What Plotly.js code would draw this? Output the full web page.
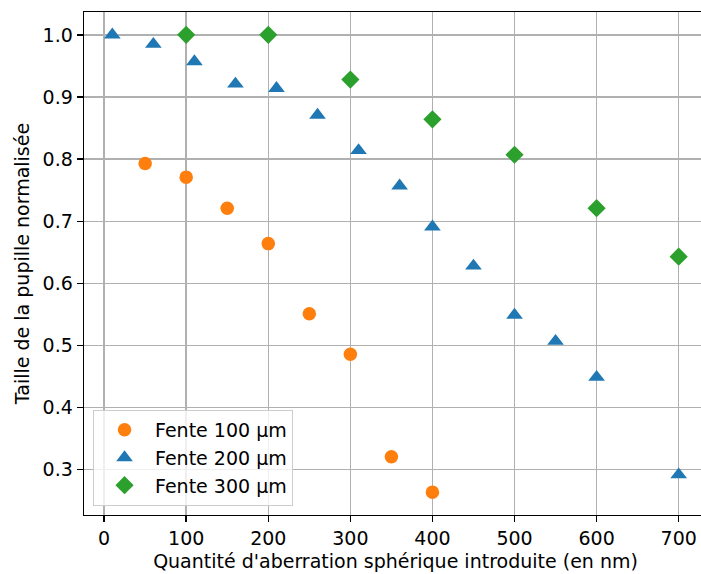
<!DOCTYPE html>
<html>
<head>
<meta charset="utf-8">
<script src="https://cdn.plot.ly/plotly-3.0.1.min.js"></script>
<style>
html,body{margin:0;padding:0;overflow:hidden;background:#fff;width:701px;height:574px;}
#chart{width:708px;height:574px;}
</style>
</head>
<body>
<div id="chart"></div>
<script>
// Data
const x100 = [50, 100, 150, 200, 250, 300, 350, 400];
const y100 = [0.793, 0.771, 0.721, 0.664, 0.551, 0.486, 0.321, 0.264];

const x200 = [10, 60, 110, 160, 210, 260, 310, 360, 400, 450, 500, 550, 600, 700];
const y200 = [1.0, 0.985, 0.957, 0.921, 0.914, 0.871, 0.814, 0.757, 0.691, 0.628, 0.549, 0.507, 0.449, 0.292];

const x300 = [100, 200, 300, 400, 500, 600, 700];
const y300 = [1.0, 1.0, 0.928, 0.864, 0.807, 0.721, 0.643];

const seriesNames = ["Fente 100 µm", "Fente 200 µm", "Fente 300 µm"];
const xTicks = [0, 100, 200, 300, 400, 500, 600, 700];
const yTicks = [0.3, 0.4, 0.5, 0.6, 0.7, 0.8, 0.9, 1.0];

const FONT = "DejaVu Sans, sans-serif";
const FS = 19;

const traces = [
  {x: x100, y: y100, name: seriesNames[0], type: "scatter", mode: "markers",
   marker: {color: "#ff7f0e", size: 13.5, symbol: "circle"}},
  {x: x200, y: y200, name: seriesNames[1], type: "scatter", mode: "markers",
   marker: {color: "#1f77b4", size: 14.5, symbol: "triangle-up"}},
  {x: x300, y: y300, name: seriesNames[2], type: "scatter", mode: "markers",
   marker: {color: "#2ca02c", size: 14, symbol: "diamond"}}
];

const axisCommon = {
  showline: true, linecolor: "#000", linewidth: 1.4, mirror: true,
  ticks: "outside", ticklen: 6, tickwidth: 1.4, tickcolor: "#000",
  showgrid: true, gridcolor: "#b0b0b0", gridwidth: 1.4,
  zeroline: false,
  tickfont: {family: FONT, size: FS, color: "#000"}
};

const layout = {
  width: 708, height: 574,
  margin: {l: 84, r: 1, t: 12, b: 59},
  paper_bgcolor: "#fff", plot_bgcolor: "#fff",
  font: {family: FONT, size: FS, color: "#000"},
  xaxis: Object.assign({}, axisCommon, {
    range: [-24.5, 734.5], tickvals: xTicks,
    title: {text: "Quantité d'aberration sphérique introduite (en nm)",
            font: {family: FONT, size: FS, color: "#000"}, standoff: 6}
  }),
  yaxis: Object.assign({}, axisCommon, {
    range: [0.2272, 1.0368], tickvals: yTicks, tickformat: ".1f",
    title: {text: "Taille de la pupille normalisée",
            font: {family: FONT, size: FS, color: "#000"}, standoff: 8}
  }),
  showlegend: true,
  legend: {
    x: 0.0145, y: 0.018, xanchor: "left", yanchor: "bottom",
    bgcolor: "rgba(255,255,255,0.8)", bordercolor: "#cccccc", borderwidth: 1,
    font: {family: FONT, size: FS, color: "#000"},
    traceorder: "normal", itemsizing: "trace", itemwidth: 51
  }
};

Plotly.newPlot("chart", traces, layout, {displayModeBar: false, staticPlot: true});
</script>
</body>
</html>
